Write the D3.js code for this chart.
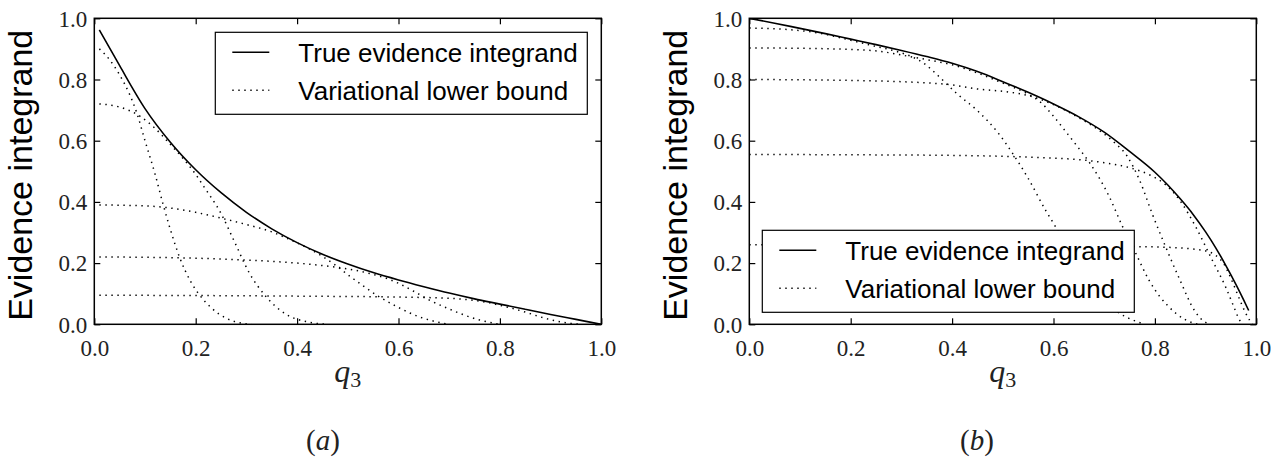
<!DOCTYPE html>
<html>
<head>
<meta charset="utf-8">
<script src="https://cdn.jsdelivr.net/npm/d3@7"></script>
<style>
  body { margin: 0; background: #fff; }
</style>
</head>
<body>
<div id="chart"></div>
<script>
const SERIF = '"Liberation Serif", "Times New Roman", serif';
const SANS = '"Liberation Sans", Arial';

// panel (a): true evidence integrand as [q3, value]
const trueA = [
  [0.01, 0.962], [0.05, 0.845], [0.1, 0.705], [0.15, 0.595], [0.2, 0.505],
  [0.25, 0.43], [0.3, 0.366], [0.35, 0.312], [0.4, 0.267], [0.45, 0.229],
  [0.5, 0.197], [0.55, 0.169], [0.6, 0.145], [0.65, 0.123], [0.7, 0.102],
  [0.75, 0.083], [0.8, 0.066], [0.85, 0.049], [0.9, 0.032], [0.95, 0.016], [1.0, 0.0]
];

// panel (a): variational lower bounds
const boundA1 = [
  [0.01, 0.9], [0.03, 0.865], [0.05, 0.815], [0.07, 0.75], [0.084, 0.69],
  [0.1, 0.6], [0.12, 0.49], [0.136, 0.39], [0.15, 0.31], [0.168, 0.22],
  [0.19, 0.14], [0.208, 0.095], [0.23, 0.055], [0.26, 0.02], [0.29, 0.004], [0.31, 0]
];
const boundA2 = [
  [0.01, 0.72], [0.05, 0.71], [0.09, 0.68], [0.12, 0.64], [0.15, 0.588],
  [0.176, 0.54], [0.2, 0.49], [0.216, 0.45], [0.25, 0.362], [0.277, 0.268],
  [0.305, 0.17], [0.338, 0.092], [0.378, 0.033], [0.42, 0.008], [0.46, 0]
];
const boundA3 = [
  [0.01, 0.39], [0.1, 0.387], [0.15, 0.38], [0.2, 0.366], [0.25, 0.347],
  [0.3, 0.326], [0.35, 0.302], [0.38, 0.281], [0.42, 0.25], [0.45, 0.222],
  [0.48, 0.188], [0.5, 0.162], [0.53, 0.126], [0.56, 0.092], [0.6, 0.055],
  [0.64, 0.025], [0.67, 0.01], [0.7, 0]
];
const boundA4 = [
  [0.01, 0.22], [0.1, 0.219], [0.2, 0.216], [0.3, 0.21], [0.4, 0.2],
  [0.45, 0.192], [0.5, 0.181], [0.55, 0.163], [0.58, 0.148], [0.6, 0.134],
  [0.63, 0.108], [0.66, 0.08], [0.7, 0.05], [0.73, 0.03], [0.76, 0.014], [0.8, 0]
];
const boundA5 = [
  [0.01, 0.095], [0.2, 0.094], [0.4, 0.092], [0.6, 0.089], [0.7, 0.085],
  [0.75, 0.078], [0.78, 0.07], [0.8, 0.062], [0.82, 0.054], [0.85, 0.04],
  [0.88, 0.024], [0.91, 0.011], [0.94, 0.003], [0.96, 0]
];

// panel (b): true evidence integrand
const trueB = [
  [0.0, 1.0], [0.05, 0.984], [0.1, 0.967], [0.15, 0.95], [0.2, 0.932],
  [0.25, 0.914], [0.3, 0.895], [0.35, 0.875], [0.4, 0.853], [0.45, 0.826],
  [0.5, 0.793], [0.55, 0.758], [0.6, 0.72], [0.65, 0.678], [0.7, 0.628],
  [0.75, 0.565], [0.8, 0.497], [0.825, 0.456], [0.85, 0.41], [0.875, 0.36],
  [0.9, 0.302], [0.92, 0.25], [0.94, 0.192], [0.96, 0.13], [0.975, 0.08], [0.985, 0.045]
];

// panel (b): variational lower bounds
const boundB1 = [
  [0.0, 0.968], [0.07, 0.964], [0.14, 0.951], [0.2, 0.928], [0.25, 0.908],
  [0.29, 0.892], [0.32, 0.875], [0.346, 0.851], [0.372, 0.813], [0.41, 0.753],
  [0.45, 0.698], [0.49, 0.627], [0.516, 0.567], [0.549, 0.48], [0.585, 0.371],
  [0.6, 0.33], [0.64, 0.22], [0.68, 0.12], [0.71, 0.06], [0.73, 0.036],
  [0.755, 0.015], [0.78, 0]
];
const boundB2 = [
  [0.0, 0.903], [0.1, 0.902], [0.2, 0.898], [0.254, 0.893], [0.3, 0.88],
  [0.35, 0.865], [0.4, 0.848], [0.45, 0.821], [0.5, 0.788], [0.55, 0.752],
  [0.575, 0.725], [0.6, 0.68], [0.625, 0.628], [0.65, 0.575], [0.672, 0.526],
  [0.71, 0.417], [0.736, 0.32], [0.762, 0.233], [0.788, 0.145], [0.81, 0.09],
  [0.827, 0.058], [0.86, 0.015], [0.885, 0]
];
const boundB3 = [
  [0.0, 0.8], [0.2, 0.797], [0.385, 0.785], [0.45, 0.769], [0.516, 0.758],
  [0.556, 0.745], [0.6, 0.718], [0.65, 0.675], [0.69, 0.634], [0.72, 0.594],
  [0.745, 0.55], [0.77, 0.47], [0.795, 0.36], [0.822, 0.25], [0.848, 0.15],
  [0.88, 0.04], [0.9, 0.006], [0.91, 0]
];
const boundB4 = [
  [0.0, 0.555], [0.2, 0.554], [0.4, 0.552], [0.5, 0.549], [0.6, 0.543],
  [0.664, 0.536], [0.7, 0.528], [0.756, 0.509], [0.79, 0.488], [0.822, 0.455],
  [0.85, 0.403], [0.88, 0.32], [0.913, 0.21], [0.94, 0.12], [0.955, 0.06],
  [0.965, 0.02], [0.972, 0]
];
const boundB5 = [
  [0.0, 0.26], [0.3, 0.259], [0.6, 0.257], [0.762, 0.254], [0.834, 0.251],
  [0.88, 0.245], [0.905, 0.238], [0.92, 0.225], [0.935, 0.2], [0.95, 0.15],
  [0.965, 0.09], [0.978, 0.04], [0.988, 0.01], [0.992, 0]
];

const boundsA = [boundA1, boundA2, boundA3, boundA4, boundA5];
const boundsB = [boundB1, boundB2, boundB3, boundB4, boundB5];

const tickValues = [0, 0.2, 0.4, 0.6, 0.8, 1.0];
const legendLabels = ["True evidence integrand", "Variational lower bound"];
const panelLabels = ["a", "b"];

const svgWidth = 1284;
const svgHeight = 461;

const svg = d3.select("#chart")
  .append("svg")
  .attr("width", svgWidth)
  .attr("height", svgHeight);

svg.append("rect").attr("width", svgWidth).attr("height", svgHeight).attr("fill", "#fff");

const panels = [
  { left: 94.3, top: 18.3, trueData: trueA, bounds: boundsA, legend: "topright", tag: panelLabels[0], tagX: 323 },
  { left: 749.3, top: 18.3, trueData: trueB, bounds: boundsB, legend: "bottomleft", tag: panelLabels[1], tagX: 977 }
];

const plotW = 507;
const plotH = 306;

panels.forEach(function(p, i) {
  const g = svg.append("g").attr("transform", `translate(${p.left}, ${p.top})`);

  const x = d3.scaleLinear().domain([0, 1]).range([0, plotW]);
  const y = d3.scaleLinear().domain([0, 1]).range([plotH, 0]);

  const fmt = d3.format(".1f");

  // ticks point inward on all four sides
  const bottomAxis = g.append("g").attr("transform", `translate(0, ${plotH})`)
    .call(d3.axisBottom(x).tickValues(tickValues).tickFormat(fmt).tickSizeInner(-6).tickSizeOuter(0).tickPadding(9));
  const leftAxis = g.append("g")
    .call(d3.axisLeft(y).tickValues(tickValues).tickFormat(fmt).tickSizeInner(-6).tickSizeOuter(0).tickPadding(7));
  g.append("g")
    .call(d3.axisTop(x).tickValues(tickValues).tickFormat("").tickSizeInner(-6).tickSizeOuter(0));
  g.append("g").attr("transform", `translate(${plotW}, 0)`)
    .call(d3.axisRight(y).tickValues(tickValues).tickFormat("").tickSizeInner(-6).tickSizeOuter(0));

  g.selectAll(".domain").remove();
  g.selectAll(".tick line").attr("stroke", "#000").attr("stroke-width", 1.2);
  [bottomAxis, leftAxis].forEach(function(ax) {
    ax.attr("font-family", null).attr("font-size", null);
    ax.selectAll("text")
      .style("font-family", SERIF)
      .style("font-size", "23px")
      .attr("fill", "#222");
  });
  bottomAxis.selectAll("text").attr("dy", null).attr("y", 32);
  leftAxis.selectAll("text").attr("dy", "0.34em").attr("x", -7);

  const clipId = "clip" + i;
  g.append("clipPath").attr("id", clipId)
    .append("rect").attr("width", plotW).attr("height", plotH);

  const line = d3.line()
    .x(d => x(d[0]))
    .y(d => y(d[1]))
    .curve(d3.curveMonotoneX);

  const curves = g.append("g").attr("clip-path", `url(#${clipId})`);

  curves.selectAll("path.bound")
    .data(p.bounds)
    .enter()
    .append("path")
    .attr("class", "bound")
    .attr("d", line)
    .attr("fill", "none")
    .attr("stroke", "#000")
    .attr("stroke-width", 1.5)
    .attr("stroke-dasharray", "1.4,4.6");

  curves.append("path")
    .datum(p.trueData)
    .attr("d", line)
    .attr("fill", "none")
    .attr("stroke", "#000")
    .attr("stroke-width", 1.6);

  // frame
  g.append("rect")
    .attr("width", plotW)
    .attr("height", plotH)
    .attr("fill", "none")
    .attr("stroke", "#000")
    .attr("stroke-width", 1.5);

  // legend
  const lw = 372, lh = 82;
  const lx = p.legend === "topright" ? plotW - 14 - lw : 13;
  const ly = p.legend === "topright" ? 14 : plotH - 12 - lh;
  const lg = g.append("g").attr("transform", `translate(${lx}, ${ly})`);
  lg.append("rect")
    .attr("width", lw).attr("height", lh)
    .attr("fill", "#fff").attr("stroke", "#000").attr("stroke-width", 1.2);

  legendLabels.forEach(function(label, k) {
    const rowY = 20 + k * 38;
    lg.append("line")
      .attr("x1", 17).attr("x2", 54)
      .attr("y1", rowY).attr("y2", rowY)
      .attr("stroke", "#000")
      .attr("stroke-width", k === 0 ? 1.6 : 1.5)
      .attr("stroke-dasharray", k === 0 ? null : "1.4,4.6");
    lg.append("text")
      .attr("x", 83)
      .attr("y", rowY + 10)
      .style("font-family", SANS)
      .style("font-size", "26px")
      .attr("fill", "#000")
      .text(label);
  });

  // y axis label
  g.append("text")
    .attr("transform", `translate(${-62}, ${plotH / 2 + 4}) rotate(-90)`)
    .attr("text-anchor", "middle")
    .style("font-family", SANS)
    .style("font-size", "34px")
    .attr("fill", "#000")
    .text("Evidence integrand");

  // x axis label q_3
  const xl = g.append("text")
    .attr("x", plotW / 2)
    .attr("y", 364)
    .attr("text-anchor", "middle")
    .style("font-family", SERIF)
    .attr("fill", "#222");
  xl.append("tspan").style("font-style", "italic").style("font-size", "32px").text("q");
  xl.append("tspan").style("font-size", "22px").attr("dy", 5).text("3");

  // panel tag (a) / (b)
  const tg = svg.append("text")
    .attr("x", p.tagX)
    .attr("y", 450)
    .attr("text-anchor", "middle")
    .style("font-family", SERIF)
    .style("font-size", "29px")
    .attr("fill", "#222");
  tg.append("tspan").text("(");
  tg.append("tspan").style("font-style", "italic").text(p.tag);
  tg.append("tspan").text(")");
});
</script>
</body>
</html>
